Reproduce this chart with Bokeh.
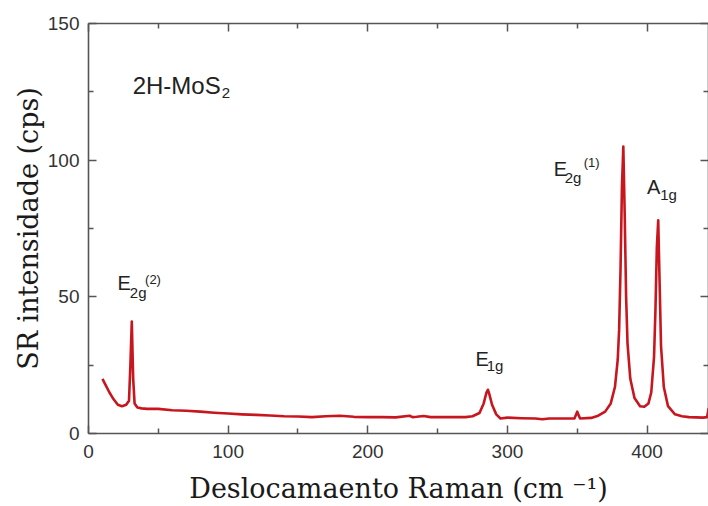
from bokeh.plotting import figure
from bokeh.models import LinearAxis, FixedTicker, ColumnDataSource, Range1d
from bokeh.core.properties import value
from bokeh.embed import file_html
from bokeh.resources import INLINE

# Raman spectrum of 2H-MoS2
shift = [10, 12, 15, 18, 21, 24, 27, 29, 30, 31, 32, 33, 35, 38, 42, 50, 60, 70, 80, 90,
         100, 110, 120, 130, 140, 150, 160, 170, 180, 185, 190, 200, 210, 220, 230, 232,
         235, 240, 245, 250, 260, 270, 275, 280, 283, 285, 286, 287, 289, 292, 295, 300,
         310, 320, 325, 330, 340, 348, 350, 352, 360, 365, 370, 374, 377, 379, 380, 381,
         382, 383, 384, 385, 386, 388, 391, 395, 398, 401, 403, 405, 406, 407, 408, 409,
         410, 412, 415, 420, 425, 430, 440, 443, 444, 445]
intensity = [20, 18, 15, 12.5, 10.5, 10, 10.5, 12, 25, 41, 20, 11, 9.5, 9.2, 9, 9, 8.5, 8.3, 8, 7.6,
             7.3, 7, 6.8, 6.6, 6.3, 6.2, 6.0, 6.3, 6.5, 6.3, 6.1, 6.0, 6.0, 5.9, 6.5, 6.0,
             6.1, 6.4, 6.0, 6.0, 6.0, 6.0, 6.3, 7.5, 11, 15, 16, 14.5, 10.5, 7, 5.5, 5.8,
             5.6, 5.5, 5.2, 5.5, 5.5, 5.5, 8, 5.5, 5.7, 6.5, 8, 11, 17, 27, 38, 60,
             90, 105, 80, 50, 33, 20, 13, 10, 9.8, 11, 15, 28, 45, 68, 78, 55,
             32, 17, 10, 7, 6.3, 6, 5.8, 6, 9, 7]

x_ticks = [0, 100, 200, 300, 400]
x_minor = [50, 150, 250, 350, 450]
y_ticks = [0, 50, 100, 150]
y_minor = [25, 75, 125]

# annotation texts (main, subscript, superscript pieces)
ann_text = ["2H-MoS", "2", "E", "2g", "(2)", "E", "1g", "E", "2g", "(1)", "A", "1g"]
ann_x = [31.6, 95.5, 20.8, 29.6, 40.5, 277.1, 285.2, 333.1, 341.0, 354.6, 399.9, 409.4]
ann_y = [127.3, 124.4, 55.2, 51.6, 56.2, 27.3, 24.7, 96.6, 93.8, 99.3, 90.2, 87.4]
ann_size = ["24px", "15px", "20px", "15px", "13px", "20px", "15px", "20px", "15px", "13px", "20px", "15px"]

p = figure(width=708, height=506, output_backend="svg", toolbar_location=None,
           x_range=Range1d(0, 444), y_range=Range1d(0, 150),
           min_border_left=88, min_border_right=0, min_border_top=23, min_border_bottom=0)
p.xaxis.visible = False
p.yaxis.visible = False
p.grid.visible = False
p.outline_line_color = None
p.background_fill_color = "white"
p.border_fill_color = "white"

axis_col = "#555555"

def style(ax, ticks, labels=True):
    ax.axis_line_color = axis_col
    ax.axis_line_width = 1.6
    ax.major_tick_line_color = axis_col
    ax.minor_tick_line_color = axis_col
    ax.major_tick_line_width = 1.5
    ax.minor_tick_line_width = 1.5
    ax.major_tick_in = 8
    ax.major_tick_out = 0
    ax.minor_tick_in = 5
    ax.minor_tick_out = 0
    if labels:
        ax.major_label_text_font = "Liberation Sans"
        ax.major_label_text_font_size = "19px"
        ax.major_label_text_color = "#333333"
    else:
        ax.major_label_overrides = {t: "" for t in ticks}
        ax.major_label_standoff = 0

xb = LinearAxis(ticker=FixedTicker(ticks=x_ticks, minor_ticks=x_minor))
style(xb, x_ticks)
xb.major_label_standoff = 11
xb.axis_label = "Deslocamaento Raman (cm \u207b\u00b9)"
xb.axis_label_text_font = "DejaVu Serif"
xb.axis_label_text_font_size = "27px"
xb.axis_label_text_font_style = "normal"
xb.axis_label_text_color = "#1a1a1a"
xb.axis_label_standoff = 12
p.add_layout(xb, "below")

yl = LinearAxis(ticker=FixedTicker(ticks=y_ticks, minor_ticks=y_minor))
style(yl, y_ticks)
yl.major_label_standoff = 9
yl.axis_label = "SR intensidade (cps)"
yl.axis_label_text_font = "DejaVu Serif"
yl.axis_label_text_font_size = "27px"
yl.axis_label_text_font_style = "normal"
yl.axis_label_text_color = "#1a1a1a"
yl.axis_label_standoff = 1
p.add_layout(yl, "left")

xt = LinearAxis(ticker=FixedTicker(ticks=x_ticks, minor_ticks=x_minor))
style(xt, x_ticks, labels=False)
p.add_layout(xt, "above")

yr = LinearAxis(ticker=FixedTicker(ticks=y_ticks, minor_ticks=y_minor))
style(yr, y_ticks, labels=False)
p.add_layout(yr, "right")

p.line(shift, intensity, line_color="#c8161e", line_width=2.6, line_join="round")

src = ColumnDataSource(dict(x=ann_x, y=ann_y, text=ann_text, size=ann_size))
p.text(x="x", y="y", text="text", source=src, text_font=value("Liberation Sans"),
       text_font_size="size", text_align="left", text_baseline="middle",
       text_color="#222222")

open("out.html", "w").write(file_html(p, INLINE))
